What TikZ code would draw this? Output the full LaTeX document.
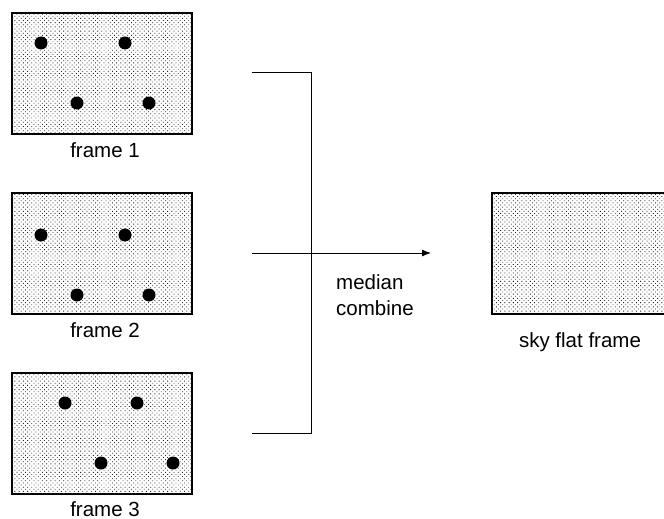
\documentclass[tikz,border=0pt]{standalone}
\usepackage{fontspec}
\setmainfont{Liberation Sans}
\usetikzlibrary{patterns.meta,arrows.meta}
\begin{document}
\begin{tikzpicture}[x=1pt,y=-1pt,
  framebox/.style={draw=black,line width=1.2pt,
    fill=white,
    postaction={pattern={Dots[distance=3pt,radius=0.6pt,angle=45]},pattern color=black!85}},
  star/.style={fill=black,circle,inner sep=0pt,minimum size=13pt},
  caption/.style={font=\fontsize{20.5}{25}\selectfont,inner sep=0pt,anchor=base},
  link/.style={line width=1pt},
]
\useasboundingbox (0,0) rectangle (664,519);
\clip (0,0) rectangle (664,519);

% input frames with stars
\path[framebox] (12,13) rectangle (192,134);
\node[star] (s11) at (41,43) {};
\node[star] (s12) at (125,43) {};
\node[star] (s13) at (77,103) {};
\node[star] (s14) at (149,103) {};
\node[caption] (l1) at (105,157) {frame 1};

\path[framebox] (12,193) rectangle (192,314);
\node[star] (s21) at (41,235) {};
\node[star] (s22) at (125,235) {};
\node[star] (s23) at (77,295) {};
\node[star] (s24) at (149,295) {};
\node[caption] (l2) at (105,337) {frame 2};

\path[framebox] (12,373) rectangle (192,494);
\node[star] (s31) at (65,403) {};
\node[star] (s32) at (137,403) {};
\node[star] (s33) at (101,463) {};
\node[star] (s34) at (173,463) {};
\node[caption] (l3) at (105,516.5) {frame 3};

% combining bracket and arrow
\coordinate (t0) at (252,73);
\coordinate (t1) at (311,73);
\coordinate (b0) at (252,433);
\coordinate (b1) at (311,433);
\coordinate (m0) at (252,253);
\coordinate (m1) at (431,253);
\draw[link] (t0) -- (t1) -- (b1) -- (b0);
\draw[link,-{Latex[length=9pt,width=7pt]}] (m0) -- (m1);
\node[caption,anchor=base west] (med) at (336,289) {median};
\node[caption,anchor=base west] (comb) at (336,315) {combine};

% result frame
\path[framebox] (492,193) rectangle (672,314);
\node[caption] (lr) at (580,347) {sky flat frame};
\end{tikzpicture}
\end{document}
